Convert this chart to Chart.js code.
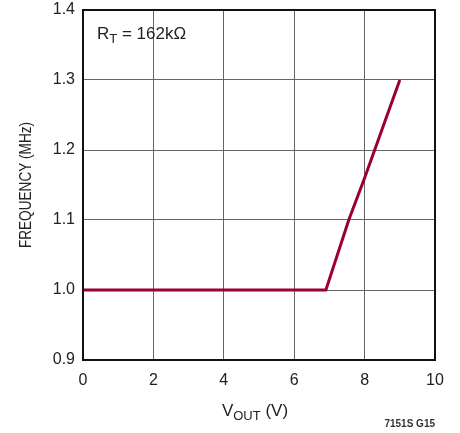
<!DOCTYPE html>
<html>
<head>
<meta charset="utf-8">
<script src="https://cdn.jsdelivr.net/npm/chart.js@4"></script>
<style>
html,body{margin:0;padding:0;background:#fff;}
#wrap{width:460px;height:433px;position:relative;}
</style>
</head>
<body>
<div id="wrap"><canvas id="c" width="460" height="433"></canvas></div>
<script>
const vout = [0, 6.9, 7.55, 8.0, 8.5, 9.0];
const freq = [1.0, 1.0, 1.1, 1.16, 1.23, 1.3];
const xTicks = [0, 2, 4, 6, 8, 10];
const yTicks = [0.9, 1.0, 1.1, 1.2, 1.3, 1.4];

const FONT = '"Liberation Sans", Arial, sans-serif';

function drawSub(ctx, parts, x, y, align) {
  let total = 0;
  parts.forEach(p => { ctx.font = p.sub ? '13px ' + FONT : '17px ' + FONT; p.w = ctx.measureText(p.t).width; total += p.w; });
  let cx = align === 'center' ? x - total / 2 : x;
  parts.forEach(p => {
    ctx.font = p.sub ? '13px ' + FONT : '17px ' + FONT;
    ctx.fillText(p.t, cx, p.sub ? y + 4 : y);
    cx += p.w;
  });
}

const extras = {
  id: 'extras',
  afterDraw(chart) {
    const ctx = chart.ctx;
    const a = chart.chartArea;
    ctx.save();
    ctx.strokeStyle = '#111';
    ctx.lineWidth = 2;
    ctx.strokeRect(a.left, a.top, a.right - a.left, a.bottom - a.top);
    ctx.fillStyle = '#222';
    ctx.textBaseline = 'alphabetic';
    ctx.textAlign = 'left';
    drawSub(ctx, [{t:'R'},{t:'T',sub:true},{t:' = 162kΩ'}], 97, 39, 'left');
    drawSub(ctx, [{t:'V'},{t:'OUT',sub:true},{t:' (V)'}], 255, 416, 'center');
    ctx.font = 'bold 10px ' + FONT;
    ctx.textAlign = 'right';
    ctx.fillStyle = '#333';
    ctx.fillText('7151S G15', 435, 427);
    ctx.translate(31, (a.top + a.bottom) / 2);
    ctx.rotate(-Math.PI / 2);
    ctx.scale(0.8, 1);
    ctx.textAlign = 'center';
    ctx.font = '17px ' + FONT;
    ctx.fillStyle = '#222';
    ctx.fillText('FREQUENCY (MHz)', 0, 0);
    ctx.restore();
  }
};

new Chart(document.getElementById('c'), {
  type: 'line',
  data: {
    datasets: [{
      data: vout.map((v, i) => ({x: v, y: freq[i]})),
      borderColor: '#9b0032',
      borderWidth: 3,
      pointRadius: 0,
      tension: 0,
      fill: false
    }]
  },
  options: {
    responsive: false,
    animation: false,
    layout: {padding: {left: 0, top: 10, right: 25, bottom: 0}},
    plugins: {legend: {display: false}, tooltip: {enabled: false}},
    scales: {
      x: {
        type: 'linear', min: 0, max: 10,
        afterBuildTicks(s) { s.ticks = xTicks.map(v => ({value: v})); },
        afterFit(s) { s.height = 73; s.paddingLeft = 0; s.paddingRight = 0; },
        grid: {color: '#666', lineWidth: 1, drawTicks: false},
        border: {display: false},
        ticks: {padding: 11, color: '#222', font: {family: FONT, size: 16}}
      },
      y: {
        type: 'linear', min: 0.9, max: 1.4,
        afterBuildTicks(s) { s.ticks = yTicks.map(v => ({value: v})); },
        afterFit(s) { s.width = 83; s.paddingTop = 0; s.paddingBottom = 0; },
        grid: {color: '#666', lineWidth: 1, drawTicks: false},
        border: {display: false},
        ticks: {padding: 8, color: '#222', font: {family: FONT, size: 16}, callback: v => Number(v).toFixed(1)}
      }
    }
  },
  plugins: [extras]
});
</script>
</body>
</html>
